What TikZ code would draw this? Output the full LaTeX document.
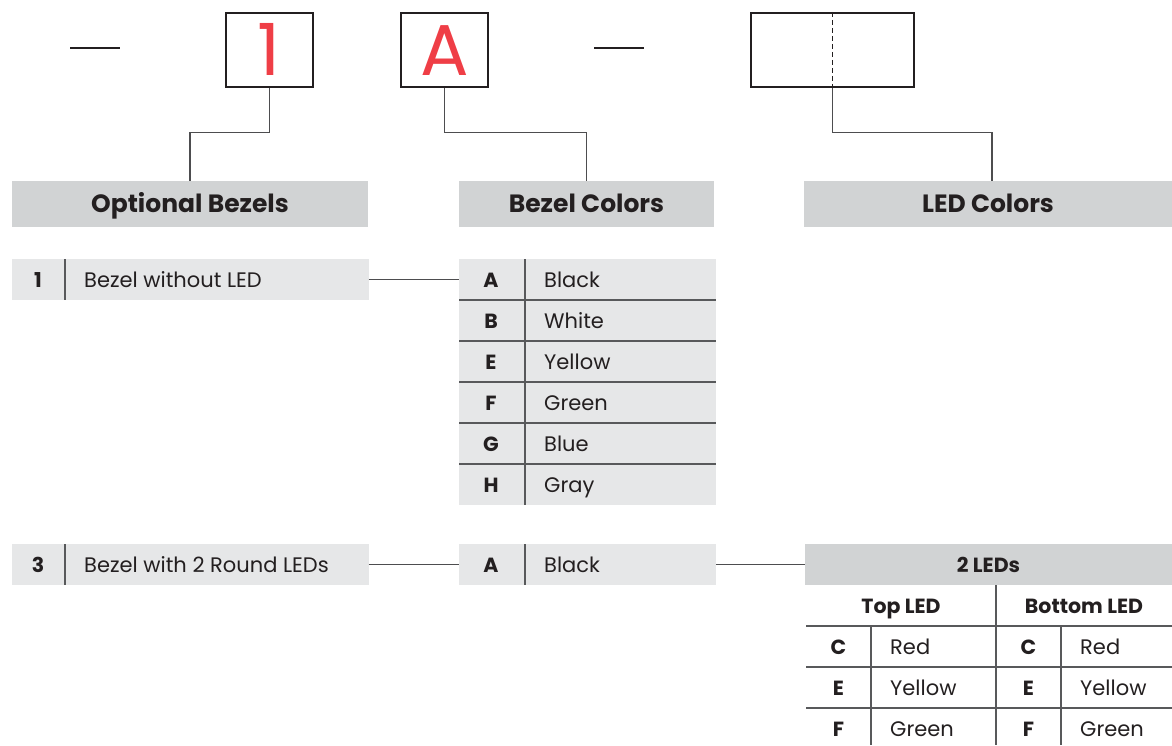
\documentclass[tikz,border=0pt]{standalone}
\usepackage{fontspec}
\setmainfont{Poppins}
\definecolor{hdrgray}{HTML}{D1D3D4}
\definecolor{rowgray}{HTML}{E6E7E8}
\definecolor{boxblack}{HTML}{231F20}
\definecolor{rulegray}{HTML}{58595B}
\definecolor{conngray}{HTML}{4D4D4F}
\definecolor{codered}{HTML}{EF3E46}
\newcommand\myhdrfont{\fontsize{25}{25}\selectfont\bfseries}
\newcommand\mybodyb{\fontsize{20.5}{20.5}\selectfont\bfseries}
\newcommand\mybodyr{\fontsize{21}{21}\selectfont}
\newcommand\mycodefont{\fontsize{72}{72}\selectfont}
\tikzset{
  hdr/.style={fill=hdrgray, minimum height=45.7pt, inner sep=0pt, outer sep=0pt, text height=17.5pt, text depth=0pt, font=\myhdrfont, text=boxblack},
  rowbg/.style={fill=rowgray, minimum height=41pt, inner sep=0pt, outer sep=0pt},
  ledhdr/.style={fill=hdrgray, minimum height=41pt, inner sep=0pt, outer sep=0pt, text height=15pt, text depth=0pt, font=\mybodyb, text=boxblack},
  key/.style={font=\mybodyb, text height=15pt, text depth=0pt, inner sep=0pt, text=boxblack},
  val/.style={font=\mybodyr, text height=15pt, text depth=0pt, inner sep=0pt, anchor=west, text=boxblack},
  rulel/.style={draw=rulegray, line width=1.3pt},
  conn/.style={draw=conngray, line width=1.3pt},
  codebox/.style={draw=boxblack, line width=2.2pt, minimum width=87pt, minimum height=74pt, inner sep=0pt, text=codered, font=\mycodefont, text height=50pt, text depth=0pt},
  dashbar/.style={draw=boxblack, line width=2.2pt},
}
\begin{document}
\begin{tikzpicture}[x=1pt,y=-1pt]
\useasboundingbox (0,0) rectangle (1172,745);
% top code line
\draw[dashbar] (70,48) -- (120,48);
\node[codebox] (c1) at (269.5,50) {1};
\node[codebox] (cA) at (444.5,50) {A};
\draw[dashbar] (594,48) -- (644,48);
\node[codebox, minimum width=163pt] (c3) at (832.3,50) {};
\draw[boxblack, line width=1.2pt, dash pattern=on 5pt off 3pt] (c3.north) -- (c3.south);
% headers
\node[hdr, minimum width=356pt] (hOB) at (190,204) {Optional Bezels};
\node[hdr, minimum width=255pt] (hBC) at (586.5,204) {Bezel Colors};
\node[hdr, minimum width=368pt] (hLED) at (988,204) {LED Colors};
% connectors from code boxes
\draw[conn] (c1.south) |- (190,132.7) -- (hOB.north);
\draw[conn] (cA.south) |- (586.5,132.7) -- (hBC.north);
\draw[conn] (c3.south) |- (992,132.7) -- (992,181.2);
% option row 1
\node[rowbg, minimum width=357pt] (r1) at (190,279.5) {};
\draw[rulel] (65,259) -- (65,300);
\node[key] (r1k) at (38,279.5) {1};
\node[val] (r1v) at (84,279.5) {Bezel without LED};
% bezel colours table
\node[rowbg, minimum width=257pt] (bA) at (587.5,279.5) {};
\node[rowbg, minimum width=257pt] (bB) at (587.5,320.5) {};
\node[rowbg, minimum width=257pt] (bE) at (587.5,361.5) {};
\node[rowbg, minimum width=257pt] (bF) at (587.5,402.5) {};
\node[rowbg, minimum width=257pt] (bG) at (587.5,443.5) {};
\node[rowbg, minimum width=257pt] (bH) at (587.5,484.5) {};
\draw[rulel] (bA.south west) -- (bA.south east);
\draw[rulel] (bB.south west) -- (bB.south east);
\draw[rulel] (bE.south west) -- (bE.south east);
\draw[rulel] (bF.south west) -- (bF.south east);
\draw[rulel] (bG.south west) -- (bG.south east);
\draw[rulel] (525,259) -- (525,505);
\node[key] (kA) at (491,279.5) {A};
\node[val] (vA) at (544,279.5) {Black};
\node[key] (kB) at (491,320.5) {B};
\node[val] (vB) at (544,320.5) {White};
\node[key] (kE) at (491,361.5) {E};
\node[val] (vE) at (544,361.5) {Yellow};
\node[key] (kF) at (491,402.5) {F};
\node[val] (vF) at (544,402.5) {Green};
\node[key] (kG) at (491,443.5) {G};
\node[val] (vG) at (544,443.5) {Blue};
\node[key] (kH) at (491,484.5) {H};
\node[val] (vH) at (544,484.5) {Gray};
\draw[conn] (r1.east) -- (bA.west);
% option row 3
\node[rowbg, minimum width=357pt] (r3) at (190,564.5) {};
\draw[rulel] (65,544) -- (65,585);
\node[key] (r3k) at (38,564.5) {3};
\node[val] (r3v) at (84,564.5) {Bezel with 2 Round LEDs};
\node[rowbg, minimum width=257pt] (b3) at (587.5,564.5) {};
\draw[rulel] (525,544) -- (525,585);
\node[key] (k3) at (491,564.5) {A};
\node[val] (v3) at (544,564.5) {Black};
\node[ledhdr, minimum width=367pt] (led2) at (988.5,564.5) {2 LEDs};
\draw[conn] (r3.east) -- (b3.west);
\draw[conn] (b3.east) -- (led2.west);
% LED table
\draw[rulel] (996,585) -- (996,745);
\draw[rulel] (806,626) -- (1172,626);
\draw[rulel] (806,667) -- (1172,667);
\draw[rulel] (806,708) -- (1172,708);
\draw[rulel] (871,626) -- (871,745);
\draw[rulel] (1061,626) -- (1061,745);
\node[key] (tl) at (901,605.5) {Top LED};
\node[key] (bl) at (1084,605.5) {Bottom LED};
\node[key] (tC) at (838.5,646.5) {C};
\node[val] (tCv) at (890,646.5) {Red};
\node[key] (tE) at (838.5,687.5) {E};
\node[val] (tEv) at (890,687.5) {Yellow};
\node[key] (tF) at (838.5,728.5) {F};
\node[val] (tFv) at (890,728.5) {Green};
\node[key] (bC) at (1028.5,646.5) {C};
\node[val] (bCv) at (1080,646.5) {Red};
\node[key] (bE2) at (1028.5,687.5) {E};
\node[val] (bEv) at (1080,687.5) {Yellow};
\node[key] (bF2) at (1028.5,728.5) {F};
\node[val] (bFv) at (1080,728.5) {Green};
\end{tikzpicture}
\end{document}
